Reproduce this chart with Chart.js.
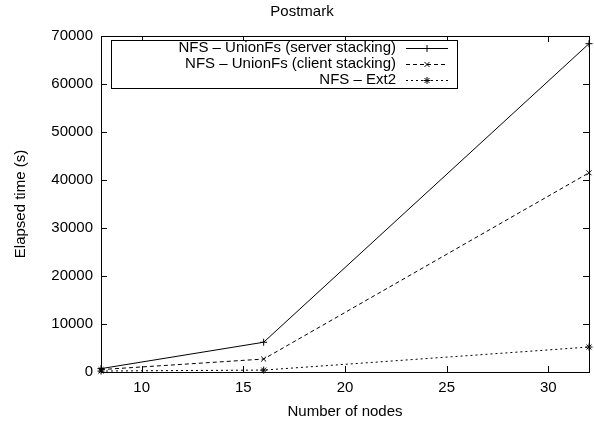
<!DOCTYPE html>
<html>
<head>
<meta charset="utf-8">
<script src="https://cdn.jsdelivr.net/npm/chart.js@4.4.0/dist/chart.umd.min.js"></script>
<style>
  html, body { margin: 0; padding: 0; background: #fff; }
  #wrap { width: 594px; height: 421px; }
</style>
</head>
<body>
<div id="wrap"><canvas id="myChart" width="594" height="421"></canvas></div>
<script>
'use strict';
let nodes = [8, 16, 32];
let serverStacking = [700, 6200, 68400];
let clientStacking = [500, 2700, 41500];
let ext2 = [200, 400, 5200];
let seriesNames = ['NFS \u2013 UnionFs (server stacking)', 'NFS \u2013 UnionFs (client stacking)', 'NFS \u2013 Ext2'];
let xTicks = [10, 15, 20, 25, 30];
let yTicks = [0, 10000, 20000, 30000, 40000, 50000, 60000, 70000];
let fontFamily = '"Liberation Sans", Arial, Helvetica, sans-serif';
let fontSize = 15;

function toPoints(values) {
    return nodes.map((n, i) => ({ x: n, y: values[i] }));
}

let styles = [
    { dash: [], point: 'cross' },
    { dash: [4, 3], point: 'crossRot' },
    { dash: [2, 3], point: 'star' }
];
let allSeries = [serverStacking, clientStacking, ext2];

let datasets = allSeries.map((vals, i) => ({
    label: seriesNames[i],
    data: toPoints(vals),
    borderColor: '#000',
    backgroundColor: '#000',
    borderWidth: 1,
    borderDash: styles[i].dash,
    pointStyle: styles[i].point,
    pointRadius: 3.5,
    pointBorderWidth: 1,
    pointBorderColor: '#000',
    fill: false,
    tension: 0,
    clip: false
}));

// gnuplot look: box border, inward ticks, legend box inside the plot
let gnuplotFrame = {
    id: 'gnuplotFrame',
    afterDatasetsDraw(chart) {
        let ctx = chart.ctx;
        let a = chart.chartArea;
        let xs = chart.scales.x;
        let ys = chart.scales.y;
        ctx.save();
        ctx.strokeStyle = '#000';
        ctx.lineWidth = 1;
        ctx.setLineDash([]);
        ctx.strokeRect(Math.round(a.left) + 0.5, Math.round(a.top) + 0.5,
            Math.round(a.right - a.left), Math.round(a.bottom - a.top));
        let t = 6;
        ctx.beginPath();
        xTicks.forEach(v => {
            let px = Math.round(xs.getPixelForValue(v)) + 0.5;
            ctx.moveTo(px, a.bottom); ctx.lineTo(px, a.bottom - t);
            ctx.moveTo(px, a.top); ctx.lineTo(px, a.top + t);
        });
        yTicks.forEach(v => {
            let py = Math.round(ys.getPixelForValue(v)) + 0.5;
            ctx.moveTo(a.left, py); ctx.lineTo(a.left + t, py);
            ctx.moveTo(a.right, py); ctx.lineTo(a.right - t, py);
        });
        ctx.stroke();

        // legend
        let bx = 111, by = 40, bw = 346, bh = 48;
        ctx.fillStyle = '#fff';
        ctx.fillRect(bx, by, bw, bh);
        ctx.strokeRect(bx + 0.5, by + 0.5, bw, bh);
        ctx.font = fontSize + 'px ' + fontFamily;
        ctx.textAlign = 'right';
        ctx.textBaseline = 'middle';
        ctx.fillStyle = '#000';
        seriesNames.forEach((name, i) => {
            let ly = by + 8 + i * 16;
            ctx.fillText(name, 396, ly);
            ctx.setLineDash(styles[i].dash);
            ctx.beginPath();
            ctx.moveTo(406, Math.round(ly) + 0.5);
            ctx.lineTo(448, Math.round(ly) + 0.5);
            ctx.stroke();
            ctx.setLineDash([]);
            Chart.helpers.drawPoint(ctx, { pointStyle: styles[i].point, radius: 3.5, borderWidth: 1 }, 427, Math.round(ly) + 0.5);
        });
        ctx.restore();
    }
};

let ctx = document.getElementById('myChart').getContext('2d');
let myChart = new Chart(ctx, {
    type: 'line',
    data: { datasets: datasets },
    options: {
        responsive: false,
        animation: false,
        layout: { padding: { left: 12, right: 2, top: 0, bottom: 0 } },
        plugins: {
            legend: { display: false },
            tooltip: { enabled: false },
            title: {
                display: true,
                text: 'Postmark',
                color: '#000',
                font: { family: fontFamily, size: fontSize, weight: 'normal' },
                padding: { top: 3, bottom: 15 }
            }
        },
        scales: {
            x: {
                type: 'linear',
                min: 8,
                max: 32,
                afterBuildTicks: s => { s.ticks = xTicks.map(v => ({ value: v })); },
                afterFit: s => { s.height = 49; },
                grid: { display: false, drawTicks: false },
                border: { display: false },
                ticks: { color: '#000', font: { family: fontFamily, size: fontSize }, padding: 7, maxRotation: 0 },
                title: {
                    display: true, text: 'Number of nodes', color: '#000',
                    font: { family: fontFamily, size: fontSize }, padding: { top: 5, bottom: 0 }
                }
            },
            y: {
                min: 0,
                max: 70000,
                afterBuildTicks: s => { s.ticks = yTicks.map(v => ({ value: v })); },
                afterFit: s => { s.width = 89; },
                grid: { display: false, drawTicks: false },
                border: { display: false },
                ticks: {
                    color: '#000', font: { family: fontFamily, size: fontSize }, padding: 8,
                    callback: v => String(v)
                },
                title: {
                    display: true, text: 'Elapsed time (s)', color: '#000',
                    font: { family: fontFamily, size: fontSize }, padding: { top: 0, bottom: 4 }
                }
            }
        }
    },
    plugins: [gnuplotFrame]
});
</script>
</body>
</html>
